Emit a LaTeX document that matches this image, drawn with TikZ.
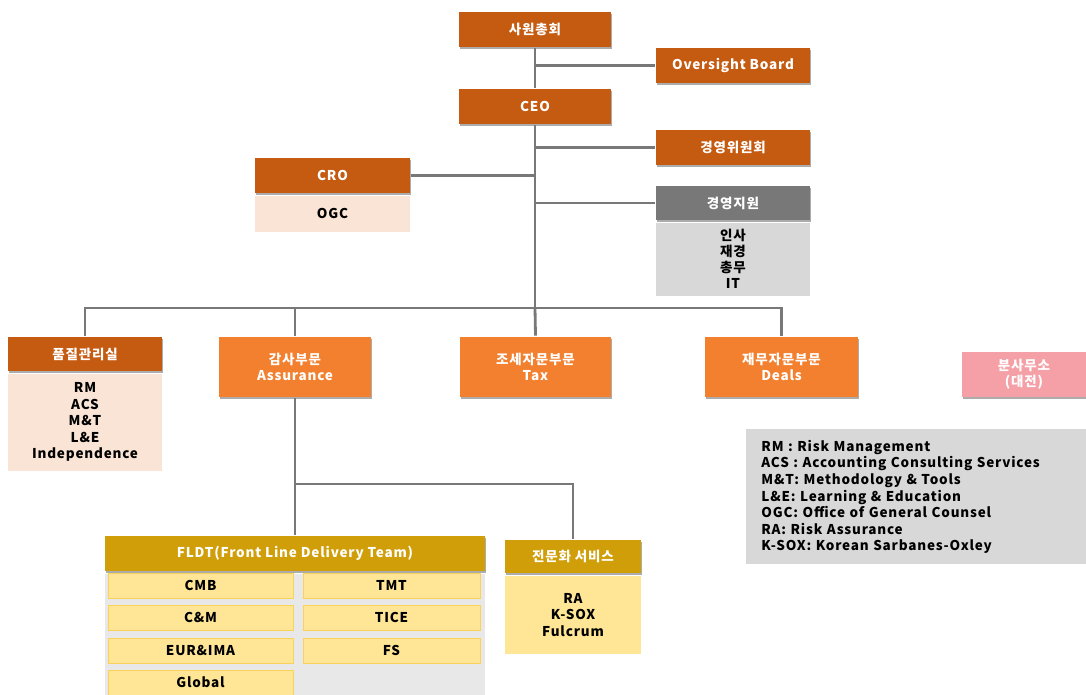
\documentclass[tikz,border=0pt]{standalone}
\usepackage{fontspec}
\setmainfont{Noto Sans CJK KR}[LetterSpace=6]
\usetikzlibrary{positioning}
\usetikzlibrary{shadows}

\definecolor{darkorange}{RGB}{197,90,17}
\definecolor{lightorange}{RGB}{242,128,46}
\definecolor{peach}{RGB}{250,228,214}
\definecolor{linegray}{RGB}{120,120,120}
\definecolor{midgray}{RGB}{120,120,120}
\definecolor{palegray}{RGB}{216,216,216}
\definecolor{panelgray}{RGB}{232,232,232}
\definecolor{gold}{RGB}{208,158,8}
\definecolor{paleyellow}{RGB}{255,230,150}
\definecolor{cellline}{RGB}{250,210,90}
\definecolor{pinkbox}{RGB}{245,160,166}

\begin{document}
\begin{tikzpicture}[x=1pt, y=-1pt, line width=2.8pt,
		head node/.style = {rectangle, fill=darkorange, text=white, inner sep=0pt,
			font=\bfseries\fontsize{13.5}{15}\selectfont, minimum width=152pt, minimum height=35pt,
			drop shadow={shadow xshift=0.8pt, shadow yshift=-2pt, fill=black!65}},
		div node/.style = {head node, fill=lightorange, minimum height=60pt, align=center,
			font=\bfseries\fontsize{13.5}{16}\selectfont},
		gold node/.style = {head node, fill=gold},
		body node/.style = {rectangle, fill=peach, inner sep=0pt, align=center,
			font=\bfseries\fontsize{13.5}{16.5}\selectfont},
		cell node/.style = {rectangle, fill=paleyellow, draw=cellline, line width=1pt, inner sep=0pt,
			minimum height=25pt, font=\bfseries\fontsize{13.5}{15}\selectfont},
		link/.style = {draw=linegray, line width=2.8pt}]
	\useasboundingbox (0,0) rectangle (1086,695);

	% top of the chart
	\node[head node] (gm) at (535,29.5) {사원총회};
	\node[head node, minimum width=154pt] (ob) at (733,65.5) {Oversight Board};
	\node[head node] (ceo) at (535,106.5) {CEO};
	\node[head node, minimum width=154pt] (exec) at (733,147.5) {경영위원회};
	\node[head node, minimum width=155pt] (cro) at (332.5,175.5) {CRO};
	\node[body node, minimum width=155pt, minimum height=36pt] (ogc) [below=0pt of cro] {OGC};
	\node[head node, fill=midgray, minimum width=154pt, minimum height=34pt] (sup) at (733,203) {경영지원};
	\node[body node, fill=palegray, minimum width=154pt, minimum height=73pt,
		font=\bfseries\fontsize{13.5}{16}\selectfont] (supbody) [below=0pt of sup] {인사\\재경\\총무\\IT};

	% divisions
	\node[head node, minimum width=154pt, minimum height=34pt] (qa) at (85,354) {품질관리실};
	\node[body node, minimum width=154pt, minimum height=97pt] (qabody) [below=0pt of qa]
		{RM\\ACS\\M\&T\\L\&E\\Independence};
	\node[div node] (aud) at (295,367) {감사부문\\Assurance};
	\node[div node, minimum width=151pt] (tax) at (535.5,367) {조세자문부문\\Tax};
	\node[div node, minimum width=153pt] (deals) at (781.5,367) {재무자문부문\\Deals};
	\node[div node, fill=pinkbox, minimum width=124pt, minimum height=45pt] (branch) at (1024,374.5)
		{분사무소\\(대전)};

	% legend
	\node[rectangle, fill=palegray, anchor=north west, minimum width=341pt, minimum height=135pt,
		text width=321pt, inner xsep=15pt, align=left,
		font=\bfseries\fontsize{13.5}{16.6}\selectfont] (legend) at (745,428)
		{RM : Risk Management\\ACS : Accounting Consulting Services\\M\&T: Methodology \& Tools\\
		L\&E: Learning \& Education\\OGC: Office of General Counsel\\RA: Risk Assurance\\
		K-SOX: Korean Sarbanes-Oxley};

	% assurance teams
	\node[gold node, minimum width=380pt] (fldt) at (295,553.5) {FLDT(Front Line Delivery Team)};
	\node[rectangle, fill=panelgray, minimum width=380pt, minimum height=124pt, inner sep=0pt]
		(panel) [below=0pt of fldt] {};
	\node[cell node, minimum width=185pt] (cmb) at (200.5,585.5) {CMB};
	\node[cell node, minimum width=177pt] (tmt) at (391.5,585.5) {TMT};
	\node[cell node, minimum width=185pt] (cm) at (200.5,617.5) {C\&M};
	\node[cell node, minimum width=177pt] (tice) at (391.5,617.5) {TICE};
	\node[cell node, minimum width=185pt] (eur) at (200.5,650.5) {EUR\&IMA};
	\node[cell node, minimum width=177pt] (fs) at (391.5,650.5) {FS};
	\node[cell node, minimum width=185pt] (global) at (200.5,682.5) {Global};
	\node[gold node, minimum width=136pt, minimum height=33pt] (spec) at (573,556.5) {전문화 서비스};
	\node[body node, fill=paleyellow, minimum width=136pt, minimum height=78pt] (specbody)
		[below=0pt of spec] {RA\\K-SOX\\Fulcrum};

	% connectors
	\coordinate (bus) at (535,308);
	\coordinate (split) at (295,484);
	\draw[link] (gm) -- (ceo);
	\draw[link] (ob.west) -- (ob.west -| gm.south);
	\draw[link] (exec.west) -- (exec.west -| ceo.south);
	\draw[link] (sup.west) -- (sup.west -| ceo.south);
	\draw[link] (cro.east) -- (cro.east -| ceo.south);
	\draw[link] (ceo.south) -- (bus);
	\draw[link] (qa.north) |- (bus) -| (deals.north);
	\draw[link] (aud.north) -- (aud.north |- bus);
	\draw[link] (tax.north) -- (bus);
	\draw[link] (aud.south) -- (fldt.north);
	\draw[link] (split) -| (spec.north);
\end{tikzpicture}
\end{document}
